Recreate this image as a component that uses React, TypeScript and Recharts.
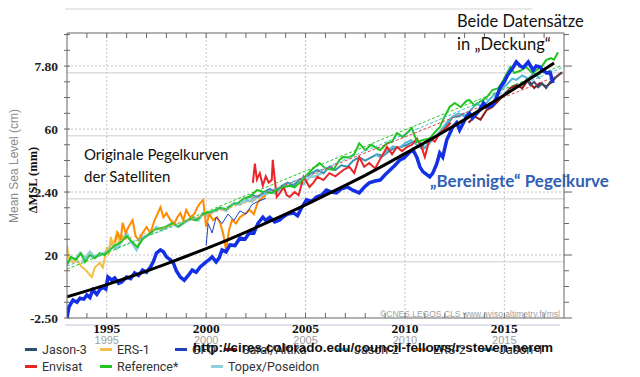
import { LineChart, Line, XAxis, YAxis, ReferenceLine } from 'recharts'

type Pt = [number, number]

// x axis: years, y axis: chart units (labels are the original's odd mixed scale)
const yearTicks = [1994, 1995, 1996, 1997, 1998, 1999, 2000, 2001, 2002, 2003, 2004, 2005, 2006, 2007, 2008, 2009, 2010, 2011, 2012, 2013, 2014, 2015, 2016, 2017]
const majorYears = [1995, 2000, 2005, 2010, 2015]
const levelTicks = [0, 5, 10, 15, 20, 25, 30, 35, 40, 45, 50, 55, 60, 65, 70, 75, 80, 85, 90]
const levelLabels: Record<number, string> = { 0: '-2.50', 20: '20', 40: '2.40', 60: '60', 80: '7.80' }
const overlayGrid = [17.9, 37.9, 57.9, 77.9]

// "Bereinigte" Pegelkurve (thick blue)
const gmsl: Pt[] = [
  [1993.0, 0], [1993.1, 3.5], [1993.3, 5.7], [1993.5, 5], [1993.65, 6.3], [1993.85, 6], [1994.0, 7.3], [1994.15, 6.5],
  [1994.3, 8.9], [1994.5, 7.5], [1994.65, 9], [1994.8, 9.8], [1994.95, 9.2], [1995.06, 13], [1995.25, 12], [1995.4, 12.7],
  [1995.6, 11], [1995.75, 11.4], [1996.0, 13], [1996.2, 12.5], [1996.4, 14.3], [1996.6, 13.5], [1996.8, 15.2], [1997.0, 14.5],
  [1997.2, 16.2], [1997.35, 18], [1997.5, 20.6], [1997.7, 21.6], [1997.85, 21], [1998.0, 19.4], [1998.2, 18.5], [1998.35, 17.5],
  [1998.5, 15], [1998.7, 13], [1998.9, 12], [1999.1, 13.5], [1999.3, 15.2], [1999.5, 14.5], [1999.7, 16.2], [2000.0, 17.8],
  [2000.15, 18.5], [2000.3, 19.4], [2000.5, 17.8], [2000.65, 19], [2000.8, 21.6], [2001.0, 21], [2001.2, 23.2], [2001.45, 23],
  [2001.7, 25.4], [2001.95, 25], [2002.2, 27.3], [2002.4, 27], [2002.6, 30], [2002.85, 32], [2003.0, 31], [2003.2, 32],
  [2003.45, 30.5], [2003.7, 31.1], [2003.85, 32], [2004.1, 33], [2004.4, 33.3], [2004.6, 32.5], [2004.8, 35], [2005.05, 37.5],
  [2005.3, 37], [2005.55, 38.4], [2005.8, 39], [2006.05, 40.6], [2006.3, 40], [2006.55, 39.7], [2006.8, 41], [2007.1, 41.6],
  [2007.4, 40.5], [2007.7, 39.7], [2007.95, 41.5], [2008.2, 42.9], [2008.5, 43.5], [2008.75, 43.8], [2009.0, 45.5], [2009.25, 47],
  [2009.5, 48.5], [2009.75, 50.2], [2009.95, 50.8], [2010.2, 52.4], [2010.4, 53.5], [2010.6, 51], [2010.75, 48], [2010.9, 46.5],
  [2011.1, 45.5], [2011.25, 44.8], [2011.4, 46], [2011.6, 49], [2011.75, 52.4], [2011.9, 51.1], [2012.1, 56.5], [2012.4, 60.6],
  [2012.6, 62], [2012.75, 59.7], [2013.1, 64], [2013.25, 65], [2013.4, 63.5], [2013.75, 66], [2013.95, 68.3], [2014.1, 67],
  [2014.4, 67.5], [2014.6, 70], [2014.8, 73.3], [2015.0, 75], [2015.15, 77], [2015.45, 79.7], [2015.6, 81.3], [2015.8, 80],
  [2015.95, 79.5], [2016.2, 81.3], [2016.45, 78.7], [2016.6, 80], [2016.8, 79.7], [2016.95, 78.5], [2017.15, 77.8], [2017.3, 78],
  [2017.45, 74.6],
]

// accelerating trend (black)
const trend: Pt[] = [
  [1993, 6.7], [1994, 8.6], [1995, 10.6], [1996, 12.7], [1997, 14.9], [1998, 17.2], [1999, 19.6], [2000, 22.0], [2001, 24.6],
  [2002, 27.3], [2003, 30.1], [2004, 33.0], [2005, 35.9], [2006, 39.0], [2007, 42.1], [2008, 45.3], [2009, 48.7], [2010, 52.2],
  [2011, 55.7], [2012, 59.3], [2013, 63.0], [2014, 66.9], [2015, 70.8], [2016, 74.8], [2017, 78.9], [2017.5, 81.0],
]

const topex: Pt[] = [
  [1993.0, 17], [1993.2, 19], [1993.4, 18.4], [1993.65, 20.6], [1993.9, 19], [1994.15, 21], [1994.4, 19.4], [1994.7, 20],
  [1995.0, 21], [1995.25, 23.8], [1995.5, 22], [1995.8, 25], [1996.0, 27], [1996.25, 24], [1996.5, 21.6], [1996.75, 25.7],
  [1997.0, 26], [1997.25, 27], [1997.5, 28.9], [1997.75, 27.9], [1998.0, 29], [1998.3, 30.2], [1998.6, 29], [1998.9, 30.2],
  [1999.1, 31], [1999.35, 32], [1999.6, 31], [1999.85, 33.3], [2000.1, 32.5], [2000.4, 34], [2000.7, 35], [2001.0, 34],
  [2001.4, 36.5], [2001.7, 36], [2002.0, 37.5], [2002.3, 37], [2002.55, 38.4], [2002.9, 39], [2003.2, 40], [2003.5, 39.5],
  [2003.9, 41.6], [2004.2, 42], [2004.6, 43], [2004.9, 42.5], [2005.2, 44.8], [2005.5, 45], [2005.8, 46],
]

const ers1: Pt[] = [
  [1993.0, 23], [1993.1, 19], [1993.3, 17.5], [1993.5, 18.5], [1993.7, 16.5], [1993.95, 15.2], [1994.1, 14], [1994.25, 13],
  [1994.4, 16], [1994.65, 17.5], [1994.8, 16], [1995.0, 22.5], [1995.1, 20], [1995.2, 25.7], [1995.35, 23], [1995.5, 27],
  [1995.65, 24], [1995.8, 26], [1996.0, 25],
]

const ers2: Pt[] = [
  [1995.4, 24], [1995.55, 27], [1995.7, 25], [1995.8, 30.2], [1995.95, 27], [1996.1, 29], [1996.3, 31.1], [1996.45, 26],
  [1996.6, 24.8], [1996.8, 27], [1997.0, 28.9], [1997.2, 27], [1997.4, 31], [1997.55, 33], [1997.7, 35.2], [1997.85, 32],
  [1998.0, 33.3], [1998.2, 31.1], [1998.4, 30], [1998.55, 32], [1998.7, 33.3], [1998.85, 31], [1999.0, 34.3], [1999.2, 32],
  [1999.4, 33], [1999.55, 35], [1999.7, 36.5], [1999.85, 37.5], [2000.0, 29], [2000.15, 33], [2000.35, 31.1], [2000.55, 32],
  [2000.7, 30.2], [2000.85, 27], [2001.0, 21.6], [2001.15, 27.9], [2001.3, 31.1], [2001.5, 30], [2001.7, 32], [2002.0, 33.3],
  [2002.2, 34.3], [2002.4, 33], [2002.6, 36.8], [2002.8, 38], [2003.0, 39],
]

const gfo: Pt[] = [
  [2000.0, 23], [2000.1, 30], [2000.3, 27], [2000.5, 32], [2000.8, 30], [2001.1, 33], [2001.4, 31], [2001.7, 34],
  [2002.0, 33], [2002.3, 36], [2002.6, 37], [2003.0, 38],
]

const envisat: Pt[] = [
  [2002.35, 42.9], [2002.45, 49], [2002.55, 44], [2002.7, 46], [2002.85, 42], [2003.0, 45], [2003.15, 43], [2003.3, 43.8],
  [2003.35, 50.2], [2003.45, 44], [2003.55, 38.4], [2003.75, 40], [2003.9, 41.6], [2004.05, 39], [2004.2, 38.4], [2004.45, 40],
  [2004.65, 39], [2004.9, 44.8], [2005.2, 41.6], [2005.4, 43], [2005.6, 44.8], [2005.9, 43.8], [2006.2, 46], [2006.5, 45],
  [2006.9, 47], [2007.2, 48], [2007.45, 46], [2007.7, 51.1], [2007.95, 48], [2008.2, 49.2], [2008.5, 47.5], [2008.8, 51],
  [2009.1, 54.3], [2009.35, 52], [2009.6, 54.3], [2009.85, 53], [2010.1, 54.3], [2010.35, 55], [2010.6, 57], [2010.85, 54],
  [2011.0, 51.1], [2011.25, 57], [2011.5, 56], [2011.75, 58.7], [2012.1, 60.6], [2012.3, 62],
]

const jason1: Pt[] = [
  [2002.0, 38], [2002.3, 39], [2002.6, 38.5], [2002.9, 40], [2003.2, 41], [2003.5, 40], [2003.8, 42], [2004.1, 43],
  [2004.4, 42], [2004.7, 44], [2005.0, 45], [2005.3, 46], [2005.6, 47], [2005.9, 46], [2006.2, 48], [2006.5, 47],
  [2006.8, 48.5], [2007.1, 48], [2007.4, 50], [2007.7, 51], [2008.0, 50], [2008.3, 51], [2008.6, 52], [2008.9, 51.5],
  [2009.2, 53], [2009.5, 54], [2009.8, 54.3], [2010.1, 55], [2010.4, 56], [2010.7, 55.9], [2011.0, 54], [2011.3, 56],
  [2011.6, 58], [2011.9, 59.7], [2012.2, 62], [2012.4, 63.8], [2012.7, 64], [2013.0, 65],
]

const jason2: Pt[] = [
  [2008.5, 52], [2008.8, 51], [2009.1, 53], [2009.4, 54.5], [2009.7, 54], [2010.0, 55.5], [2010.3, 56.5], [2010.6, 55],
  [2010.9, 53.5], [2011.2, 55.5], [2011.5, 57.5], [2011.8, 59.5], [2012.1, 62], [2012.4, 64], [2012.7, 65], [2013.0, 64],
  [2013.3, 66], [2013.6, 68], [2013.9, 67], [2014.2, 69], [2014.5, 71], [2014.8, 72.4], [2015.1, 74], [2015.4, 76],
  [2015.6, 75.6], [2015.9, 77], [2016.2, 76], [2016.5, 77.8], [2016.8, 76],
]

const jason3: Pt[] = [
  [2016.1, 76], [2016.3, 74], [2016.5, 75], [2016.7, 73.3], [2016.9, 74.5], [2017.1, 73], [2017.3, 75], [2017.5, 76],
  [2017.7, 77], [2017.9, 78],
]

const saral: Pt[] = [
  [2013.2, 62], [2013.5, 64], [2013.8, 63], [2014.1, 66], [2014.4, 67], [2014.7, 69], [2015.0, 71], [2015.3, 73],
  [2015.6, 74], [2015.9, 73], [2016.2, 75.6], [2016.5, 73], [2016.8, 74.6], [2017.1, 73.5], [2017.4, 75], [2017.6, 76.5],
  [2017.9, 78],
]

const reference: Pt[] = [
  [1993.0, 17], [1993.2, 19.4], [1993.45, 18.5], [1993.7, 20.6], [1993.9, 17.8], [1994.15, 20], [1994.4, 19], [1994.65, 20.6],
  [1994.9, 20], [1995.15, 21.6], [1995.4, 23], [1995.7, 24], [1996.0, 26], [1996.3, 24], [1996.55, 22.5], [1996.8, 25],
  [1997.1, 26.5], [1997.4, 28], [1997.7, 28.5], [1998.0, 29], [1998.3, 30], [1998.6, 29], [1998.9, 30.5], [1999.2, 31.5],
  [1999.5, 31], [1999.85, 33], [2000.1, 33.5], [2000.4, 34], [2000.7, 35], [2001.0, 34.5], [2001.3, 36], [2001.6, 36.5],
  [2001.9, 38], [2002.2, 38.5], [2002.55, 40.6], [2002.9, 40], [2003.3, 39.7], [2003.6, 41], [2003.85, 41.6], [2004.2, 42],
  [2004.45, 41.5], [2004.7, 42.9], [2005.0, 45], [2005.3, 47], [2005.7, 49.2], [2006.0, 47.5], [2006.4, 47], [2006.7, 50.2],
  [2006.9, 51.1], [2007.2, 51], [2007.45, 52], [2007.7, 55.5], [2008.0, 53.3], [2008.3, 55], [2008.75, 53.3], [2009.1, 55.5],
  [2009.35, 56], [2009.6, 58.7], [2009.9, 57.5], [2010.35, 60.3], [2010.6, 55.9], [2010.9, 56.5], [2011.25, 57], [2011.5, 59],
  [2011.75, 60.6], [2012.0, 64], [2012.25, 67], [2012.5, 68.3], [2012.8, 67], [2013.1, 69], [2013.25, 69.2], [2013.5, 67.5],
  [2013.75, 68.6], [2014.1, 70], [2014.4, 72.4], [2014.7, 73], [2014.95, 75.6], [2015.15, 78], [2015.3, 79.7], [2015.5, 77.8],
  [2015.8, 78.5], [2016.1, 79.7], [2016.4, 77.8], [2016.7, 79], [2016.9, 80], [2017.1, 81.9], [2017.35, 82.5], [2017.5, 82],
  [2017.7, 84.4],
]

// linear fits (thin dashed)
const referenceFit: Pt[] = [[1993, 15.5], [2017.8, 80]]
const topexFit: Pt[] = [[1993, 16.5], [2006, 47]]
const ersFit: Pt[] = [[1995.4, 24], [2003, 38.5]]
const envisatFit: Pt[] = [[2002.3, 38], [2017.9, 77.5]]
const jasonFit: Pt[] = [[2002, 37], [2017.9, 79.5]]

const rows = (pts: Pt[]) => pts.map(([t, v]) => ({ t, v }))

const legendRow1 = [
  { name: 'Jason-3', color: '#2f4f6f', x: 25 },
  { name: 'ERS-1', color: '#f2c04a', x: 100 },
  { name: 'GFO', color: '#2040c0', x: 175 },
  { name: 'Saral/Altika', color: '#8b1a1a', x: 225 },
  { name: 'Jason-2', color: '#52b8d8', x: 337 },
  { name: 'ERS-2', color: '#ff8a00', x: 416 },
  { name: 'Jason-1', color: '#3c8fb0', x: 482 },
]
const legendRow2 = [
  { name: 'Envisat', color: '#e8262a', x: 25 },
  { name: 'Reference*', color: '#22c422', x: 100 },
  { name: 'Topex/Poseidon', color: '#8dd0d8', x: 211 },
]

const BottomTick = (props: any) => {
  const { x, y, payload } = props
  const major = majorYears.includes(payload.value)
  return (
    <g>
      <line x1={x} x2={x} y1={y} y2={y - 5} stroke="#666" />
      {major && (
        <text x={x} y={y + 25.5} textAnchor="middle" fontFamily="Liberation Sans" fontSize={11} fill="#a0a0a0">
          {payload.value}
        </text>
      )}
      {major && (
        <text x={x} y={y + 14.5} textAnchor="middle" fontFamily="Liberation Serif" fontWeight="bold" fontSize={13.5} fill="#111">
          {payload.value}
        </text>
      )}
    </g>
  )
}

const TopTick = (props: any) => {
  const { x, y } = props
  return <line x1={x} x2={x} y1={y} y2={y + 5} stroke="#666" />
}

const LeftTick = (props: any) => {
  const { x, y, payload } = props
  const label = levelLabels[payload.value]
  return (
    <g>
      <line x1={x - 3} x2={x + 3} y1={y} y2={y} stroke="#666" />
      {label && (
        <text x={x - 9} y={y + 4.5} textAnchor="end" fontFamily="Liberation Serif" fontWeight="bold" fontSize={13.5} fill="#222">
          {label}
        </text>
      )}
    </g>
  )
}

const RightTick = (props: any) => {
  const { x, y, payload } = props
  const major = levelLabels[payload.value] !== undefined
  return <line x1={x} x2={x + (major ? 8 : 5)} y1={y} y2={y} stroke="#666" />
}

const abs = (x: number, y: number): React.CSSProperties => ({ position: 'absolute', left: x, top: y, whiteSpace: 'nowrap' })

export default function App() {
  return (
    <div style={{ position: 'absolute', left: 0, top: 0, width: 640, height: 377, background: '#fff', overflow: 'hidden' }}>
      <LineChart width={640} height={377} margin={{ top: 0, right: 66, bottom: 0, left: 0 }}>
        <XAxis dataKey="t" type="number" domain={[1993, 2018]} ticks={yearTicks} allowDataOverflow interval={0}
          height={59} stroke="#666" tickLine={false} tickSize={0} tickMargin={0} tick={<BottomTick />} />
        <XAxis xAxisId="top" orientation="top" dataKey="t" type="number" domain={[1993, 2018]} ticks={yearTicks} interval={0}
          allowDataOverflow height={33} stroke="#666" tickLine={false} tickSize={0} tickMargin={0} tick={<TopTick />} />
        <YAxis type="number" domain={[0, 90.5]} ticks={levelTicks} allowDataOverflow width={67} stroke="#666"
          tickLine={false} tickSize={0} tickMargin={0} tick={<LeftTick />} interval={0} />
        <YAxis yAxisId="right" orientation="right" type="number" domain={[0, 90.5]} ticks={levelTicks} allowDataOverflow
          width={10} stroke="#666" tickLine={false} tickSize={0} tickMargin={0} tick={<RightTick />} interval={0} />

        {overlayGrid.map((v) => (
          <ReferenceLine key={'o' + v} y={v} stroke="#dedede" strokeWidth={1.5} />
        ))}
        {[20, 40, 60, 80].map((v) => (
          <ReferenceLine key={'h' + v} y={v} stroke="#c4c4c4" strokeDasharray="2 2" />
        ))}
        {majorYears.map((v) => (
          <ReferenceLine key={'v' + v} x={v} stroke="#c4c4c4" strokeDasharray="2 2" />
        ))}
        <ReferenceLine ifOverflow="visible" segment={[{ x: 1992.9, y: 98.1 }, { x: 2016.4, y: 98.1 }]} stroke="#e2e2e2" strokeWidth={1.5} />
        <ReferenceLine ifOverflow="visible" segment={[{ x: 1992.9, y: -2.2 }, { x: 2017.8, y: -2.2 }]} stroke="#dfe3ee" strokeWidth={2} />

        <Line data={rows(topex)} dataKey="v" stroke="#8dd0d8" strokeWidth={2.6} dot={false} isAnimationActive={false} />
        <Line data={rows(ers1)} dataKey="v" stroke="#f2c04a" strokeWidth={2} dot={false} isAnimationActive={false} />
        <Line data={rows(ers2)} dataKey="v" stroke="#ff8a00" strokeWidth={2} dot={false} isAnimationActive={false} />
        <Line data={rows(gfo)} dataKey="v" stroke="#2040c0" strokeWidth={1} dot={false} isAnimationActive={false} />
        <Line data={rows(jason1)} dataKey="v" stroke="#3c8fb0" strokeWidth={2} dot={false} isAnimationActive={false} />
        <Line data={rows(jason2)} dataKey="v" stroke="#52b8d8" strokeWidth={2} dot={false} isAnimationActive={false} />
        <Line data={rows(saral)} dataKey="v" stroke="#8b1a1a" strokeWidth={2} dot={false} isAnimationActive={false} />
        <Line data={rows(jason3)} dataKey="v" stroke="#2f4f6f" strokeWidth={2} dot={false} isAnimationActive={false} />
        <Line data={rows(envisat)} dataKey="v" stroke="#e8262a" strokeWidth={2} dot={false} isAnimationActive={false} />
        <Line data={rows(reference)} dataKey="v" stroke="#22c422" strokeWidth={2} dot={false} isAnimationActive={false} />

        <Line data={rows(referenceFit)} dataKey="v" stroke="#22c422" strokeWidth={1} strokeDasharray="3 2" dot={false} isAnimationActive={false} />
        <Line data={rows(topexFit)} dataKey="v" stroke="#60c0d0" strokeWidth={1} strokeDasharray="3 2" dot={false} isAnimationActive={false} />
        <Line data={rows(ersFit)} dataKey="v" stroke="#f0a050" strokeWidth={1} strokeDasharray="3 2" dot={false} isAnimationActive={false} />
        <Line data={rows(envisatFit)} dataKey="v" stroke="#e04040" strokeWidth={1} strokeDasharray="3 2" dot={false} isAnimationActive={false} />
        <Line data={rows(jasonFit)} dataKey="v" stroke="#40b8d0" strokeWidth={1} strokeDasharray="3 2" dot={false} isAnimationActive={false} />

        <Line data={rows(gmsl)} dataKey="v" stroke="#1430e6" strokeWidth={3.5} dot={false} isAnimationActive={false} />
        <Line data={rows(trend)} dataKey="v" stroke="#000" strokeWidth={3} dot={false} isAnimationActive={false} />
      </LineChart>

      {/* axis titles */}
      <div style={{ ...abs(14, 166), transform: 'translate(-50%, -50%) rotate(-90deg)', fontFamily: 'Liberation Sans', fontSize: 12, color: '#8a8a8a' }}>
        Mean Sea Level (cm)
      </div>
      <div style={{ ...abs(33, 180), transform: 'translate(-50%, -50%) rotate(-90deg)', fontFamily: 'Liberation Serif', fontWeight: 'bold', fontSize: 12.5, color: '#111' }}>
        ΔMSL (mm)
      </div>

      <div style={{ ...abs(380, 309), fontFamily: 'Liberation Sans', fontSize: 8.5, color: '#a0a0a0' }}>
        ©CNES,LEGOS,CLS www.aviso.altimetry.fr/msl
      </div>

      {/* annotations */}
      <div style={{ ...abs(84, 143), fontFamily: 'Lato', fontSize: 15, color: '#111', lineHeight: '22px' }}>
        Originale Pegelkurven<br />der Satelliten
      </div>
      <div style={{ ...abs(457, 10), fontFamily: 'Lato', fontSize: 16.5, color: '#111', lineHeight: '23px' }}>
        Beide Datensätze<br />in „Deckung“
      </div>
      <div style={{ ...abs(430, 170), fontFamily: 'Lato', fontWeight: 'bold', fontSize: 17, color: '#3060b4' }}>
        „Bereinigte“ Pegelkurve
      </div>

      {/* legend */}
      {legendRow1.map((d) => (
        <div key={d.name} style={{ ...abs(d.x, 342), display: 'flex', alignItems: 'center', fontFamily: 'Roboto', fontSize: 12.5, color: '#333' }}>
          <span style={{ display: 'inline-block', width: 12, height: 3, background: d.color, marginRight: 5 }} />
          {d.name}
        </div>
      ))}
      {legendRow2.map((d) => (
        <div key={d.name} style={{ ...abs(d.x, 359), display: 'flex', alignItems: 'center', fontFamily: 'Roboto', fontSize: 12.5, color: '#333' }}>
          <span style={{ display: 'inline-block', width: 12, height: 3, background: d.color, marginRight: 5 }} />
          {d.name}
        </div>
      ))}
      <div style={{ ...abs(193, 340), fontFamily: 'Liberation Sans', fontWeight: 'bold', fontSize: 13.5, color: '#111' }}>
        http://cires.colorado.edu/council-fellows/r-steven-nerem
      </div>
    </div>
  )
}
